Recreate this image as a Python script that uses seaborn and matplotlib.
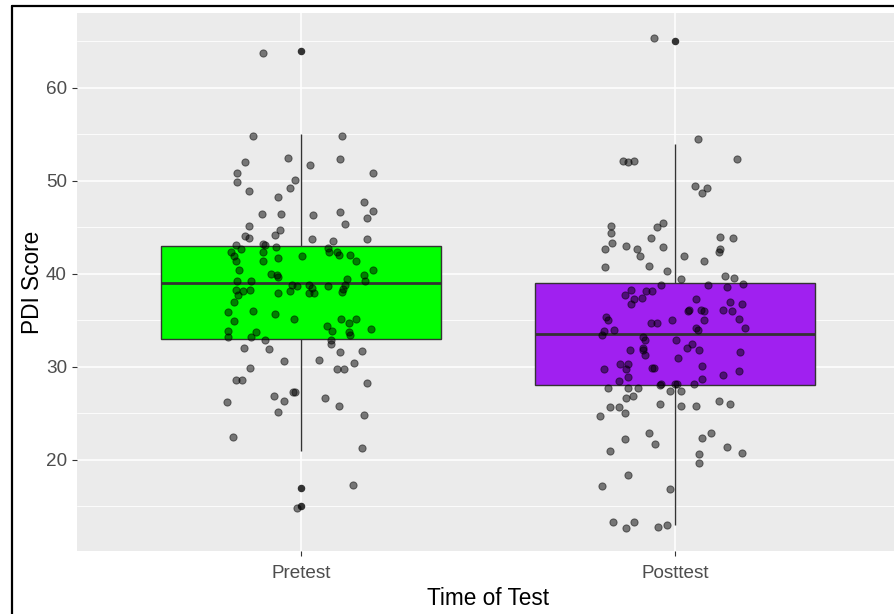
import numpy as np
import pandas as pd
import matplotlib
matplotlib.use("Agg")
import matplotlib.pyplot as plt
from matplotlib.lines import Line2D
from matplotlib.ticker import MultipleLocator
import seaborn as sns

# -----------------------------
# DATA
# -----------------------------

categories = ["Pretest", "Posttest"]

# PDI score of every point as drawn (whole scores + small vertical jitter)
# and the sideways jitter of each point (in category units)
pre_scores = [
    63.77, 54.80, 54.80, 52.50, 52.00, 52.33, 51.68, 50.85, 50.85, 49.88,
    50.06, 49.24, 48.88, 48.27, 47.76, 46.79, 46.47, 46.47, 46.30, 46.62,
    45.97, 45.33, 45.18, 44.68, 44.18, 44.03, 43.85, 43.71, 43.53, 43.71,
    43.20, 43.10, 43.07,
    42.85, 42.70, 42.35, 42.35, 41.88, 41.35, 41.35, 41.70, 41.88, 42.78,
    42.35, 42.35, 42.06, 42.06, 41.35, 40.38, 40.38, 39.90, 39.98, 39.90,
    39.62, 39.26, 39.26, 39.44, 38.83, 38.40, 38.04, 39.19, 38.83, 38.72,
    38.83, 38.47, 37.93, 37.93, 38.72, 38.22, 38.12, 38.22, 37.68, 36.97,
    37.93, 38.12, 35.89, 36.04, 35.67, 35.18, 35.18, 34.67, 35.18, 34.90,
    34.38, 33.88, 33.70, 33.38, 34.06, 33.88, 33.17, 33.70, 33.23,
    32.91, 32.91, 32.44, 32.05, 31.87, 31.55, 31.72, 30.58, 30.76, 30.43,
    29.93, 29.75, 29.75, 28.64, 28.64, 28.28, 27.31, 27.35, 26.85, 26.35,
    26.67, 26.17, 25.84, 25.16, 24.87, 22.43, 21.25, 17.34, 14.87,
]
pre_jitter = [
    -0.101, -0.130, 0.110, -0.036, -0.150, 0.105, 0.024, -0.171, 0.191, -0.171,
    -0.016, -0.029, -0.139, -0.061, 0.167, 0.191, -0.105, -0.053, 0.032, 0.105,
    0.175, 0.118, -0.139, -0.057, -0.069, -0.150, -0.139, 0.029, 0.086, 0.175,
    -0.101, -0.097, -0.174,
    -0.068, -0.162, -0.188, -0.101, -0.180, -0.175, -0.101, -0.061, 0.001, 0.071,
    0.075, 0.095, 0.102, 0.131, 0.147, -0.166, 0.191, 0.167, -0.081, -0.066,
    -0.062, -0.171, -0.133, 0.122, 0.118, 0.113, 0.109, 0.171, -0.025, -0.012,
    0.020, 0.030, 0.020, 0.035, 0.073, -0.175, -0.157, -0.138, -0.169, -0.180,
    -0.061, -0.029, -0.195, -0.130, -0.070, -0.019, 0.106, 0.127, 0.147, -0.180,
    0.069, 0.082, 0.129, 0.131, 0.187, -0.195, -0.195, -0.122, -0.133,
    -0.097, 0.081, 0.081, -0.154, -0.085, 0.105, 0.163, -0.045, 0.048, 0.142,
    -0.138, 0.097, 0.114, -0.174, -0.158, 0.175, -0.016, -0.022, -0.073, -0.045,
    0.065, -0.199, 0.102, -0.061, 0.167, -0.182, 0.163, 0.139, -0.012,
]

post_scores = [
    65.38, 54.48, 52.17, 52.03, 52.17, 52.32, 49.42, 48.73, 49.24, 45.18,
    44.36, 43.35, 42.70, 45.50, 45.00, 43.85, 43.03, 42.70, 41.88, 42.85,
    41.88, 41.41, 44.00, 43.85, 42.70, 42.38, 40.77, 40.87, 40.27, 39.41,
    39.80, 39.58,
    38.76, 38.76, 38.58, 38.94, 37.75, 38.22, 37.32, 36.78, 37.40, 38.12,
    38.12, 37.29, 35.97, 36.14, 36.14, 35.97, 36.97, 36.78, 36.14, 35.97,
    35.35, 35.00, 34.70, 34.70, 35.00, 35.00, 35.18, 34.17, 34.17, 33.99,
    33.92, 33.81, 33.38, 33.20, 32.91, 32.91, 32.44, 32.08, 32.08, 31.83,
    31.23, 31.77, 31.77, 31.58, 30.93, 30.29, 30.29, 29.79, 28.93, 28.43,
    29.79, 29.93, 29.93, 30.07, 29.60, 29.10, 28.67, 28.14, 28.00, 28.17,
    28.14, 28.14,
    27.70, 27.78, 27.78, 27.40, 27.40, 26.67, 26.85, 25.70, 25.70, 26.03,
    25.84, 25.84, 26.35, 26.03, 24.69, 25.02, 22.90, 21.75, 22.25, 22.40,
    22.90, 21.43, 20.78, 20.96, 20.60, 19.63, 18.34, 17.19, 16.87, 13.28,
    12.64, 13.28, 12.78, 13.04,
]
post_jitter = [
    -0.057, 0.061, -0.139, -0.126, -0.109, 0.166, 0.053, 0.073, 0.086, -0.171,
    -0.171, -0.167, -0.187, -0.032, -0.048, -0.065, -0.130, -0.102, -0.093, -0.032,
    0.024, 0.077, 0.122, 0.155, 0.122, 0.118, -0.187, -0.069, -0.021, 0.016,
    0.134, 0.159,
    -0.036, 0.089, 0.139, 0.183, -0.134, -0.118, -0.109, -0.118, -0.089, -0.078,
    -0.061, 0.058, 0.034, 0.038, 0.070, 0.079, 0.147, 0.179, 0.130, 0.152,
    -0.183, -0.179, -0.064, -0.049, -0.007, 0.078, 0.172, 0.188, 0.058, 0.061,
    -0.163, -0.190, -0.195, -0.085, -0.080, 0.004, 0.045, 0.032, -0.085, -0.085,
    -0.080, -0.121, 0.065, 0.174, 0.009, -0.147, -0.125, -0.130, -0.125, -0.150,
    -0.190, -0.061, -0.055, 0.073, 0.172, 0.130, 0.073, 0.052, -0.040, -0.036,
    0.000, 0.007,
    -0.179, -0.125, -0.098, -0.013, 0.016, -0.130, -0.113, -0.174, -0.150, -0.040,
    0.016, 0.057, 0.118, 0.147, -0.199, -0.134, -0.069, -0.053, -0.134, 0.073,
    0.097, 0.139, 0.180, -0.174, 0.065, 0.065, -0.126, -0.195, -0.012, -0.166,
    -0.130, -0.109, -0.045, -0.021,
]

box_colors = {"Pretest": "#00FF00", "Posttest": "#A020F0"}

# the boxes use the whole scores (points carry up to 0.4 of vertical jitter)
box_data = pd.DataFrame({
    "Time of Test": ["Pretest"] * len(pre_scores) + ["Posttest"] * len(post_scores),
    "PDI Score": np.round(pre_scores + post_scores),
})

point_data = pd.DataFrame({
    "x": [categories.index("Pretest") + j for j in pre_jitter]
         + [categories.index("Posttest") + j for j in post_jitter],
    "PDI Score": pre_scores + post_scores,
})

# -----------------------------
# STYLE (ggplot-like grey theme)
# -----------------------------
sns.set_theme(style="darkgrid", rc={
    "axes.facecolor": "#EBEBEB",
    "figure.facecolor": "white",
    "grid.color": "white",
    "grid.linewidth": 1.1,
    "xtick.bottom": True,
    "ytick.left": True,
    "xtick.color": "#333333",
    "ytick.color": "#333333",
    "xtick.labelcolor": "#4D4D4D",
    "ytick.labelcolor": "#4D4D4D",
    "xtick.major.size": 3.6,
    "ytick.major.size": 3.6,
    "xtick.major.width": 0.8,
    "ytick.major.width": 0.8,
    "xtick.major.pad": 6.8,
    "ytick.major.pad": 3.6,
    "xtick.labelsize": 13.6,
    "ytick.labelsize": 13.6,
})
plt.rcParams["font.family"] = ["Liberation Sans", "DejaVu Sans"]

fig = plt.figure(figsize=(8.94, 6.14), dpi=100)
ax = fig.add_axes([77 / 894, 1 - 551 / 614, 822 / 894, 538 / 614])

sns.boxplot(
    data=box_data, x="Time of Test", y="PDI Score", hue="Time of Test",
    order=categories, palette=box_colors, saturation=1, width=0.75,
    linecolor="#333333", linewidth=1.0, showcaps=False, whis=1.5,
    fliersize=4.4,
    flierprops=dict(marker="o", markerfacecolor="#333333", markeredgecolor="#333333"),
    medianprops=dict(linewidth=2.0),
    legend=False, ax=ax,
)

sns.scatterplot(
    data=point_data, x="x", y="PDI Score", color="black", alpha=0.5,
    s=27, edgecolor="black", linewidth=0.7, ax=ax, zorder=3, legend=False,
)

# axes, grid and ticks
ax.set_xlim(-0.6, 1.6)
ax.set_ylim(10.2, 68.05)
ax.set_xticks([0, 1])
ax.set_xticklabels(categories)
ax.yaxis.set_major_locator(MultipleLocator(10))
ax.yaxis.set_minor_locator(MultipleLocator(5))
ax.set_axisbelow(True)
ax.grid(True, which="major", axis="both", color="white", linewidth=1.1)
ax.grid(True, which="minor", axis="y", color="white", linewidth=0.6)
ax.tick_params(which="minor", length=0)
for spine in ax.spines.values():
    spine.set_visible(False)

ax.set_xlabel("Time of Test", fontsize=16.3, color="black", labelpad=3)
ax.set_ylabel("PDI Score", fontsize=16.3, color="black", labelpad=1.5)

# black frame of the screenshot (top and left edges)
fig.add_artist(Line2D([11.5 / 894, 1], [1 - 6 / 614, 1 - 6 / 614],
                      transform=fig.transFigure, color="black", linewidth=1.6))
fig.add_artist(Line2D([11.5 / 894, 11.5 / 894], [0, 1 - 6 / 614],
                      transform=fig.transFigure, color="black", linewidth=1.6))

fig.savefig("out.png", dpi=100)
